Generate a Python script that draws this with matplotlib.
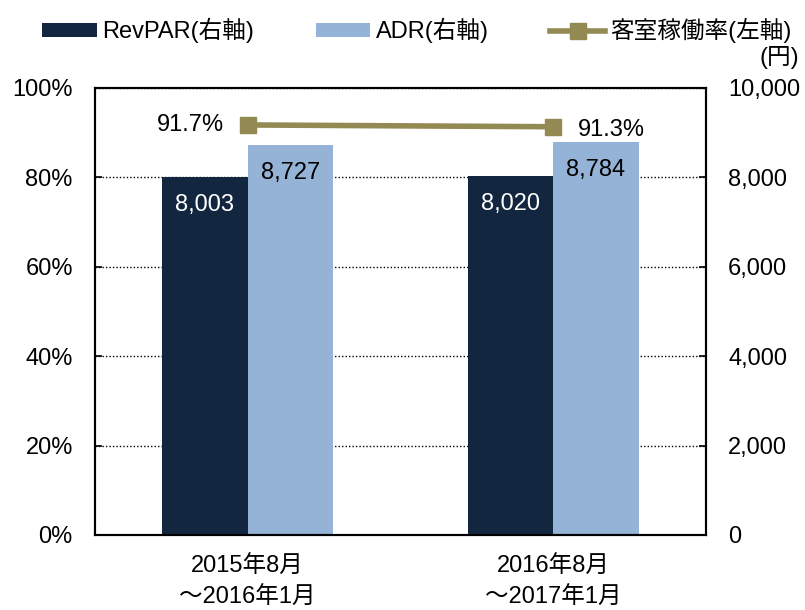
import numpy as np
import matplotlib
matplotlib.use('Agg')
import matplotlib.pyplot as plt

plt.rcParams['font.family'] = ['Liberation Sans', 'Noto Sans CJK JP', 'DejaVu Sans']

periods = ['2015年8月\n～2016年1月', '2016年8月\n～2017年1月']
revpar = [8003, 8020]
adr = [8727, 8784]
occupancy = [91.7, 91.3]

c_revpar = '#132640'
c_adr = '#95b3d7'
c_occ = '#938953'

fig = plt.figure(figsize=(8.05, 6.1), dpi=100)
ax = fig.add_axes([0.118, 0.123, 0.759, 0.733])
ax2 = ax.twinx()

x = np.arange(len(periods))
w = 0.28
b1 = ax2.bar(x - w / 2, revpar, w, color=c_revpar, label='RevPAR(右軸)')
b2 = ax2.bar(x + w / 2, adr, w, color=c_adr, label='ADR(右軸)')
ln, = ax.plot(x, occupancy, color=c_occ, lw=4, marker='s', ms=11.5,
              label='客室稼働率(左軸)', zorder=5)

for xi, v in zip(x, revpar):
    ax2.annotate(f'{v:,}', (xi - w / 2, v), xytext=(0, -20), textcoords='offset points',
                 ha='center', va='center', color='white', fontsize=17)
for xi, v in zip(x, adr):
    ax2.annotate(f'{v:,}', (xi + w / 2, v), xytext=(0, -20), textcoords='offset points',
                 ha='center', va='center', color='black', fontsize=17)
ax.annotate(f'{occupancy[0]}%', (x[0], occupancy[0]), xytext=(-17, 0),
            textcoords='offset points', ha='right', va='center', fontsize=17)
ax.annotate(f'{occupancy[1]}%', (x[1], occupancy[1]), xytext=(18, -2),
            textcoords='offset points', ha='left', va='center', fontsize=17)

# line above bars
ax.set_zorder(ax2.get_zorder() + 1)
ax.patch.set_visible(False)

ax.set_xlim(-0.5, 1.5)
ax.set_ylim(0, 100)
ax2.set_ylim(0, 10000)
ax.set_yticks(range(0, 101, 20))
ax.set_yticklabels([f'{v}%' for v in range(0, 101, 20)])
ax2.set_yticks(range(0, 10001, 2000))
ax2.set_yticklabels([f'{v:,}' for v in range(0, 10001, 2000)])
ax.set_xticks(x)
ax.set_xticklabels(periods, linespacing=1.55)

ax.tick_params(axis='y', direction='in', length=5, width=1.2, pad=16, labelsize=17)
ax2.tick_params(axis='y', direction='in', length=5, width=1.2, pad=16, labelsize=17)
ax.tick_params(axis='x', length=0, pad=15, labelsize=17)

ax2.yaxis.grid(True, linestyle=(0, (1, 1.5)), color='black', lw=1)
ax2.set_axisbelow(True)
for a in (ax, ax2):
    for s in a.spines.values():
        s.set_linewidth(1.5)
        s.set_color('black')

fig.text(0.968, 0.905, '(円)', ha='center', va='center', fontsize=17)

fig.legend(handles=[b1, b2, ln], loc='upper left', bbox_to_anchor=(0.038, 0.99),
           ncol=3, frameon=False, borderpad=0, handlelength=2.3, handleheight=0.5,
           columnspacing=2.6, handletextpad=0.25, fontsize=17)

fig.savefig('out.png', dpi=100)
